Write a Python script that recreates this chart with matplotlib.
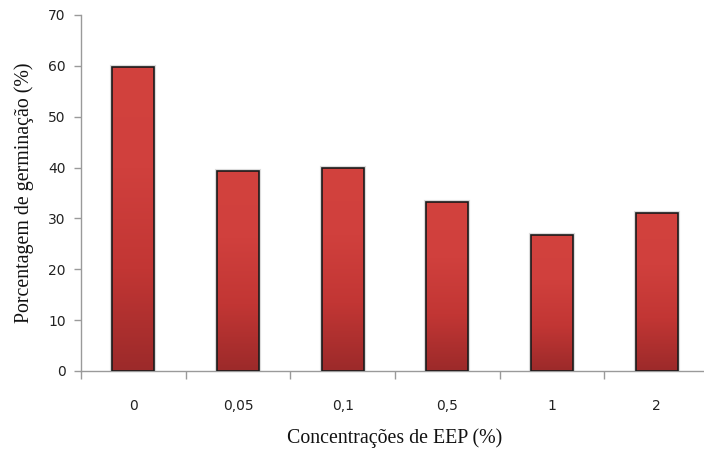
import matplotlib
matplotlib.use("Agg")
import matplotlib.pyplot as plt
import numpy as np
from matplotlib.colors import LinearSegmentedColormap

categories = ["0", "0,05", "0,1", "0,5", "1", "2"]
values = [59.8, 39.3, 40.0, 33.3, 26.7, 31.1]
y_ticks = [0, 10, 20, 30, 40, 50, 60, 70]

fig = plt.figure(figsize=(7.04, 4.51), dpi=100)
ax = fig.add_axes([81/704, 80/451, 628/704, 356/451])

x = np.arange(len(categories))
bars = ax.bar(x, values, width=0.4, facecolor="none", edgecolor="#1a1a1a",
              linewidth=1.2, zorder=3)

cmap = LinearSegmentedColormap.from_list("redgrad", ["#9c2a2a", "#c23634", "#d0403d", "#d2423e"])
grad = np.linspace(0, 1, 256).reshape(-1, 1)
for b in bars:
    x0, w, h = b.get_x(), b.get_width(), b.get_height()
    ax.bar(x0 + w / 2, h, width=w, bottom=0, facecolor="none",
           edgecolor="#bbbbbb", linewidth=3.0, alpha=0.5, zorder=1)
    im = ax.imshow(grad, cmap=cmap, aspect="auto", origin="lower",
                   extent=[x0, x0 + w, 0, h], zorder=2, interpolation="bilinear")
    im.set_clip_path(b)

ax.set_xlim(-0.5, len(categories) - 0.5)
ax.set_ylim(0, 70)

ax.set_yticks(y_ticks)
ax.set_yticklabels([str(t) for t in y_ticks], fontsize=10, color="#222222",
                   family="DejaVu Sans")
ax.tick_params(axis="y", length=5, width=1, color="#9a9a9a", pad=6)

ax.set_xticks(np.arange(-0.5, len(categories), 1.0))
ax.set_xticklabels([])
ax.tick_params(axis="x", which="major", length=6, width=1, color="#9a9a9a")
ax.set_xticks(x, minor=True)
ax.set_xticklabels(categories, minor=True, fontsize=10, color="#222222",
                   family="DejaVu Sans")
ax.tick_params(axis="x", which="minor", length=0, pad=20)

for s in ["top", "right"]:
    ax.spines[s].set_visible(False)
for s in ["left", "bottom"]:
    ax.spines[s].set_color("#9a9a9a")
    ax.spines[s].set_linewidth(1)

ax.set_xlabel("Concentrações de EEP (%)", family="Liberation Serif", fontsize=14.3,
              color="#111111", labelpad=11)
ax.set_ylabel("Porcentagem de germinação (%)", family="Liberation Serif", fontsize=14.3,
              color="#111111", labelpad=10)

fig.savefig("out.png", dpi=100)
